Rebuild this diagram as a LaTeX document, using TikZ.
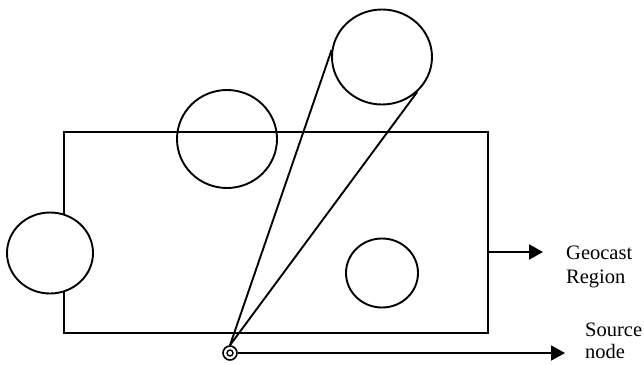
\documentclass[tikz,border=0pt]{standalone}
\usepackage{fontspec}
\setmainfont{Liberation Serif}
\usetikzlibrary{shapes.geometric,arrows.meta}
\begin{document}
\begin{tikzpicture}[x=1pt,y=-1pt,
  ln/.style={line width=1.9pt},
  blob/.style={ellipse,draw,line width=1.9pt,inner sep=0pt},
  lbl/.style={anchor=base west,inner sep=0pt,font=\fontsize{20.5}{24}\selectfont},
  arr/.style={line width=1.9pt,-{Triangle[length=14pt,width=15pt]}}]
\useasboundingbox (0,0) rectangle (644,364);
% geocast region
\node[draw,line width=2.3pt,minimum width=424pt,minimum height=201pt,inner sep=0pt] (region) at (276,232.5) {};
% nodes / circles
\node[blob,fill=white,minimum width=86pt,minimum height=81pt] (cl) at (50,253) {};
\node[blob,minimum width=100pt,minimum height=98pt] (ct) at (227,139) {};
\node[blob,minimum width=100pt,minimum height=95pt] (cr) at (382,57) {};
\node[blob,minimum width=72pt,minimum height=69pt] (cs) at (382,273) {};
% source node
\node[circle,draw,line width=1.6pt,minimum size=14pt,inner sep=0pt,fill=white] (src) at (230,353) {};
\node[circle,draw,line width=1.4pt,minimum size=6pt,inner sep=0pt] (srcin) at (src) {};
% tangent lines
\draw[ln] (src.north) -- (cr.172);
\draw[ln] (src.north) -- (cr.315);
% arrows
\coordinate (gtip) at (543,252);
\coordinate (stip) at (565,353);
\draw[arr] (region.east |- gtip) -- (gtip);
\draw[arr] (src.east) -- (stip);
% labels
\node[lbl] (g1) at (566,259) {Geocast};
\begin{scope}
\clip (550,262) rectangle (644,287);
\node[lbl] (g2) at (566,283) {Region};
\end{scope}
\node[lbl] (s1) at (585,336) {Source};
\node[lbl] (s2) at (585,358) {node};
\end{tikzpicture}
\end{document}
